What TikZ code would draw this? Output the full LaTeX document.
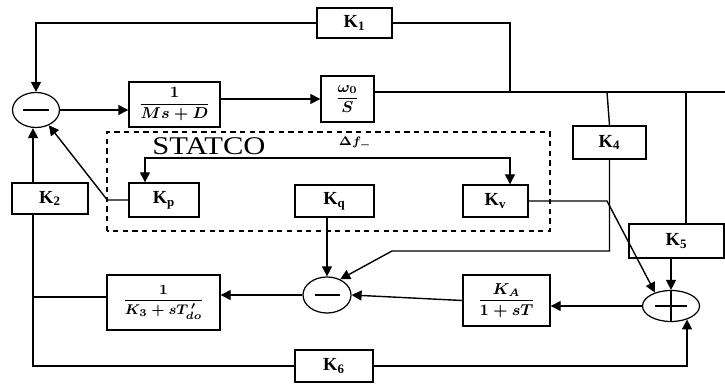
\documentclass[tikz,border=0pt]{standalone}
\usepackage{fontspec}
\setmainfont{Liberation Serif}
\usepackage{amsmath}
\usepackage{tikz}
\usetikzlibrary{arrows.meta,shapes.geometric}
\tikzset{
	blk/.style={draw, line width=0.8pt, inner sep=0pt, font=\small\boldmath},
	gain/.style={blk, font=\fontsize{10.5}{12}\selectfont\bfseries},
	junc/.style={draw, ellipse, line width=0.7pt, inner sep=0pt},
	sig/.style={line width=0.8pt},
	arr/.style={sig, ->}
}
\def\gainlabel#1{K\textsubscript{#1}}

\begin{document}
\begin{tikzpicture}[>={Triangle[length=2mm,width=2mm]}]
			%%%%% START %%%%%
			\useasboundingbox (0,0) rectangle (14.5,7.74);
			
			% forward path
			\node[junc, minimum width=0.94cm, minimum height=0.70cm] (sum1) at (0.72, 5.54) {};
			\node[blk, minimum width=1.82cm, minimum height=0.90cm] (msd) at (3.49, 5.65) {$\displaystyle\frac{1}{Ms+D}$};
			\node[blk, minimum width=1.06cm, minimum height=0.92cm] (wos) at (6.95, 5.76) {$\displaystyle\frac{\omega_0}{S}$};
			\node[gain, minimum width=1.50cm, minimum height=0.60cm] (K1) at (7.09, 7.28) {\gainlabel{1}};
			
			% gains under the speed line
			\node[gain, minimum width=1.52cm, minimum height=0.62cm] (K2) at (1.00, 3.77) {\gainlabel{2}};
			\node[gain, minimum width=1.46cm, minimum height=0.66cm] (K4) at (12.19, 4.89) {\gainlabel{4}};
			\node[gain, minimum width=1.90cm, minimum height=0.68cm] (K5) at (13.53, 2.92) {\gainlabel{5}};
			\node[gain, minimum width=1.56cm, minimum height=0.64cm] (K6) at (6.68, 0.42) {\gainlabel{6}};
			
			% statcom gains
			\node[gain, minimum width=1.40cm, minimum height=0.68cm] (Kp) at (3.28, 3.74) {\gainlabel{p}};
			\node[gain, minimum width=1.58cm, minimum height=0.64cm] (Kq) at (6.69, 3.72) {\gainlabel{q}};
			\node[gain, minimum width=1.30cm, minimum height=0.64cm] (Kv) at (9.91, 3.72) {\gainlabel{v}};
			
			% field and exciter
			\node[junc, minimum width=0.96cm, minimum height=0.72cm] (sum2) at (6.54, 1.84) {};
			\node[junc, minimum width=1.14cm, minimum height=0.62cm] (sum3) at (13.42, 1.62) {};
			\node[blk, font=\footnotesize\boldmath, minimum width=2.26cm, minimum height=1.10cm] (K3) at (3.27, 1.69) {$\displaystyle\frac{1}{K_3+sT^{\,\prime}_{do}}$};
			\node[blk, minimum width=1.74cm, minimum height=1.02cm] (KA) at (10.13, 1.73) {$\displaystyle\frac{K_A}{1+sT}$};
			
			% signs in the summing points
			\draw[sig] ([xshift=-0.26cm]sum1.center) -- ([xshift=0.26cm]sum1.center);
			\draw[sig] ([xshift=-0.25cm]sum2.center) -- ([xshift=0.25cm]sum2.center);
			\draw[sig] ([xshift=-0.32cm]sum3.center) -- ([xshift=0.32cm]sum3.center);
			\draw[sig] (sum3.north) -- (sum3.south);
			
			% statcom frame
			\draw[line width=0.6pt, dash pattern=on 3pt off 2.5pt] (2.14, 3.12) rectangle (11.00, 5.10);
			\node[inner sep=0pt, font=\fontsize{14.5}{16}\selectfont] (statco) at (4.18, 4.81) {\scalebox{1.2}[1]{STATCO}};
			\node[inner sep=0pt, font=\scriptsize\boldmath] (dfl) at (7.10, 4.88) {$\Delta f_{-}$};
			
			\coordinate (tap1) at (10.20, 5.90);
			\coordinate (tap4) at (12.14, 5.90);
			\coordinate (tap5) at (13.72, 5.90);
			\coordinate (lineend) at (14.50, 5.90);
			\coordinate (k4bend) at (7.84, 2.72);
			\coordinate (jn) at (0.66, 1.80);
			\coordinate (sl) at (2.90, 4.58);
			\coordinate (sr) at (10.20, 4.58);
			
			\draw[arr] (sum1.east) -- (sum1.east -| msd.west);
			\draw[arr] (wos.west -| msd.east) -- (wos.west);
			\draw[sig] (wos.east |- tap1) -- (lineend);
			\draw[sig] (K1.east) -| (tap1);
			\draw[arr] (K1.west) -| (sum1.north);
			
			\draw[sig] (tap4) -- (K4.north);
			\draw[arr] (K4.south) |- (k4bend) -- (sum2.50);
			\draw[sig] (tap5) -- (tap5 |- K5.north);
			\draw[arr] (K5.south -| sum3.north) -- (sum3.north);
			\draw[arr] (Kv.east) -- (Kv.east -| tap4) -- (sum3.140);
			
			\draw[<->, sig] (sl |- Kp.north) -- (sl) -- (sr) -- (sr |- Kv.north);
			\draw[arr] (Kp.west) -- ++(-0.42, 0) -- (sum1.-50);
			\draw[arr] (Kq.south -| sum2.north) -- (sum2.north);
			
			\draw[arr] (sum3.west) -- (sum3.west -| KA.east);
			\draw[arr] (KA.west) -- (sum2.east);
			\draw[arr] (sum2.west) -- (sum2.west -| K3.east);
			\draw[sig] (jn -| K3.west) -- (jn);
			\draw[arr] (jn |- K2.north) -- (jn |- sum1.south);
			\draw[sig] (jn |- K2.south) |- (K6.west);
			\draw[arr] (K6.east) -| (sum3.-40);
			
			%%%%% END %%%%%
\end{tikzpicture}
\end{document}
